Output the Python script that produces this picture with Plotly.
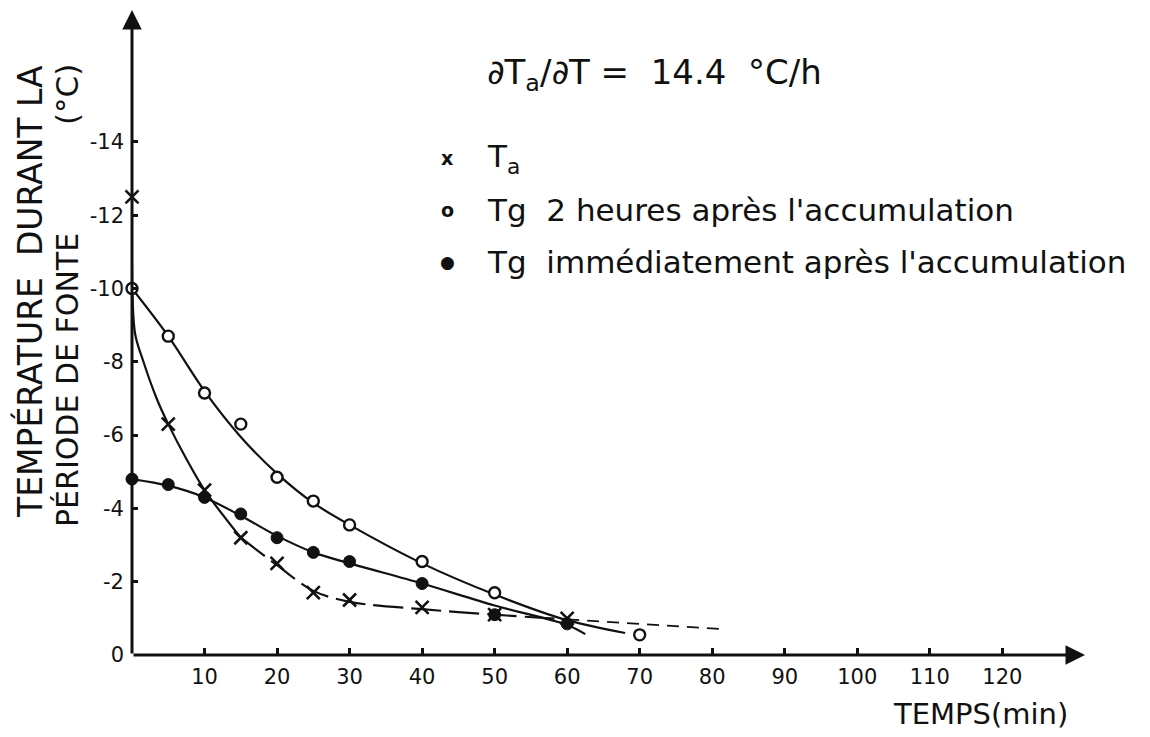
import plotly.graph_objects as go

# ---- data ----
# measured points
time_ta = [0, 5, 10, 15, 20, 25, 30, 40, 50, 60]
temp_ta = [-12.5, -6.3, -4.5, -3.2, -2.5, -1.7, -1.5, -1.3, -1.1, -1.0]

time_tg2h = [0, 5, 10, 15, 20, 25, 30, 40, 50, 70]
temp_tg2h = [-10.0, -8.7, -7.15, -6.3, -4.85, -4.2, -3.55, -2.55, -1.7, -0.55]

time_tgimm = [0, 5, 10, 15, 20, 25, 30, 40, 50, 60]
temp_tgimm = [-4.8, -4.65, -4.3, -3.85, -3.2, -2.8, -2.55, -1.95, -1.1, -0.85]

# hand-drawn fitted curves
curve_ta_time = [0, 0.4, 1.5, 3.4, 5, 7.5, 10, 15]
curve_ta_temp = [-12.5, -8.8, -8.05, -7.0, -6.3, -5.35, -4.5, -3.2]
curve_ta_tail_time = [15, 20, 25, 30, 40, 50, 60]
curve_ta_tail_temp = [-3.2, -2.45, -1.75, -1.45, -1.25, -1.1, -0.97]
curve_ta_ext_time = [60, 82]
curve_ta_ext_temp = [-0.97, -0.7]

curve_tg2h_time = [0, 5, 10, 15, 20, 25, 30, 40, 50, 60, 68]
curve_tg2h_temp = [-10.0, -8.7, -7.2, -5.95, -4.95, -4.15, -3.55, -2.5, -1.65, -0.95, -0.6]

curve_tgimm_time = [0, 5, 10, 15, 20, 25, 30, 40, 50, 60, 62.5]
curve_tgimm_temp = [-4.8, -4.62, -4.3, -3.8, -3.25, -2.8, -2.5, -1.95, -1.35, -0.82, -0.57]

x_ticks = [10, 20, 30, 40, 50, 60, 70, 80, 90, 100, 110, 120]
y_ticks = [0, -2, -4, -6, -8, -10, -12, -14]
y_tick_text = ["0", "-2", "-4", "-6", "-8", "-10", "-12", "-14"]

FONT = "DejaVu Sans"
BLACK = "#111111"

fig = go.Figure()


def curve(xs, ys, dash="solid", width=2.2, shape="spline"):
    fig.add_trace(go.Scatter(x=xs, y=ys, mode="lines",
                             line=dict(color=BLACK, width=width, shape=shape, smoothing=0.9, dash=dash),
                             cliponaxis=False, hoverinfo="skip"))


curve(curve_ta_time, curve_ta_temp)
curve(curve_ta_tail_time, curve_ta_tail_temp, dash="30px,8px")
curve(curve_ta_ext_time, curve_ta_ext_temp, dash="12px,8px", width=1.8, shape="linear")
curve(curve_tg2h_time, curve_tg2h_temp)
curve(curve_tgimm_time, curve_tgimm_temp)

# markers
fig.add_trace(go.Scatter(x=time_ta, y=temp_ta, mode="markers",
                         marker=dict(symbol="x-thin-open", size=13, color=BLACK,
                                     line=dict(color=BLACK, width=2.6)),
                         cliponaxis=False, hoverinfo="skip"))
fig.add_trace(go.Scatter(x=time_tg2h, y=temp_tg2h, mode="markers",
                         marker=dict(symbol="circle", size=11, color="white", line=dict(color=BLACK, width=2.4)),
                         cliponaxis=False, hoverinfo="skip"))
fig.add_trace(go.Scatter(x=time_tgimm, y=temp_tgimm, mode="markers",
                         marker=dict(symbol="circle", size=12, color=BLACK, line=dict(color=BLACK, width=1)),
                         cliponaxis=False, hoverinfo="skip"))

X_MAX = 131.4
Y_MAX = -17.6

# axes drawn as arrows
fig.add_annotation(x=X_MAX, y=0, ax=0, ay=0, xref="x", yref="y", axref="x", ayref="y",
                   showarrow=True, arrowhead=2, arrowsize=1.3, arrowwidth=3, arrowcolor=BLACK, text="")
fig.add_annotation(x=0, y=Y_MAX, ax=0, ay=0, xref="x", yref="y", axref="x", ayref="y",
                   showarrow=True, arrowhead=2, arrowsize=1.3, arrowwidth=3, arrowcolor=BLACK, text="")

fig.update_xaxes(range=[0, X_MAX], tickvals=x_ticks, ticks="inside", ticklen=7, tickwidth=2.5,
                 tickcolor=BLACK, showgrid=False, zeroline=False, showline=False,
                 tickfont=dict(family=FONT, size=21, color=BLACK), ticklabelstandoff=7)
fig.update_yaxes(range=[0, Y_MAX], tickvals=y_ticks, ticktext=y_tick_text, ticks="inside", ticklen=6,
                 tickwidth=2.5, tickcolor=BLACK, showgrid=False, zeroline=False, showline=False,
                 tickfont=dict(family=FONT, size=21, color=BLACK), ticklabelstandoff=7)

# texts (positions given in pixels, converted below)
fig.add_annotation(x=485, y=75, xref="paper", yref="paper", text="∂T<sub>a</sub>/∂T =  14.4  °C/h",
                   showarrow=False, xanchor="left", yanchor="middle",
                   font=dict(family=FONT, size=34, color=BLACK))

fig.add_annotation(x=1070, y=714, xref="paper", yref="paper", text="TEMPS(min)",
                   showarrow=False, xanchor="right", yanchor="middle",
                   font=dict(family=FONT, size=29, color=BLACK))

fig.add_annotation(x=30, y=292, xref="paper", yref="paper", text="TEMPÉRATURE  DURANT LA",
                   showarrow=False, textangle=-90, xanchor="center", yanchor="middle",
                   font=dict(family=FONT, size=33, color=BLACK))
fig.add_annotation(x=67, y=380, xref="paper", yref="paper", text="PÉRIODE DE FONTE",
                   showarrow=False, textangle=-90, xanchor="center", yanchor="middle",
                   font=dict(family=FONT, size=30, color=BLACK))
fig.add_annotation(x=67, y=95, xref="paper", yref="paper", text="(°C)",
                   showarrow=False, textangle=-90, xanchor="center", yanchor="middle",
                   font=dict(family=FONT, size=31, color=BLACK))

legend_items = [("x", "T<sub>a</sub>", 158), ("o", "Tg  2 heures après l'accumulation", 210),
                ("●", "Tg  immédiatement après l'accumulation", 262)]
for sym, label, yy in legend_items:
    fig.add_annotation(x=447, y=yy, xref="paper", yref="paper", text="<b>" + sym + "</b>", showarrow=False,
                       xanchor="center", yanchor="middle",
                       font=dict(family=FONT, size=19 if sym != "●" else 17, color=BLACK))
    fig.add_annotation(x=485, y=yy, xref="paper", yref="paper", text=label, showarrow=False,
                       xanchor="left", yanchor="middle", font=dict(family=FONT, size=31, color=BLACK))

W, H = 1150, 737
ML, MR, MT, MB = 132, W - 1085, 10, H - 655
pw, ph = W - ML - MR, H - MT - MB
for a in fig.layout.annotations:
    if a.xref == "paper":
        a.x = (a.x - ML) / pw
        a.y = 1 - (a.y - MT) / ph

fig.update_layout(width=W, height=H, margin=dict(l=ML, r=MR, t=MT, b=MB),
                  paper_bgcolor="white", plot_bgcolor="white", showlegend=False)

fig.write_html("out.html")
